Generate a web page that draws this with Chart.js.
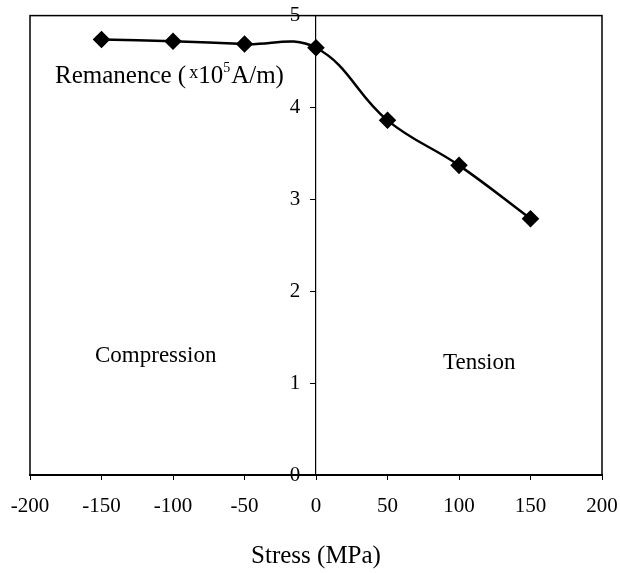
<!DOCTYPE html>
<html>
<head>
<meta charset="utf-8">
<script src="https://cdn.jsdelivr.net/npm/chart.js@4"></script>
<style>
  html, body { margin: 0; padding: 0; background: #fff; }
  #wrap { position: relative; width: 620px; height: 573px; }
</style>
</head>
<body>
<div id="wrap"><canvas id="remanence-chart" width="620" height="573"></canvas></div>
<script>
const stress = [-150, -100, -50, 0, 50, 100, 150];
const remanence = [4.74, 4.72, 4.69, 4.65, 3.86, 3.37, 2.79];
const xTicks = [-200, -150, -100, -50, 0, 50, 100, 150, 200];
const yTicks = [0, 1, 2, 3, 4, 5];

const serif = "'Liberation Serif', 'DejaVu Serif', serif";

// frame round the plot area and the free text labels
const framePlugin = {
    id: 'frame',
    afterDraw(chart) {
        const { ctx, chartArea } = chart;
        ctx.save();
        ctx.strokeStyle = '#000';
        ctx.lineWidth = 1.5;
        ctx.strokeRect(chartArea.left, chartArea.top, chartArea.right - chartArea.left, chartArea.bottom - chartArea.top);

        ctx.fillStyle = '#000';
        ctx.textBaseline = 'alphabetic';
        ctx.textAlign = 'left';
        let x = 55;
        const y = 83;
        const part = (txt, size, dy, gap) => {
            ctx.font = size + 'px ' + serif;
            ctx.fillText(txt, x, y + dy);
            x += ctx.measureText(txt).width + (gap || 0);
        };
        part('Remanence (', 25, 0, 3);
        part('x', 18, -5);
        part('10', 25, 0);
        part('5', 14, -11, 1);
        part('A/m)', 25, 0);

        ctx.font = '23px ' + serif;
        ctx.fillText('Compression', 95, 362);
        ctx.fillText('Tension', 443, 369);
        ctx.restore();
    }
};

const chartConfig = {
    type: 'line',
    data: {
        datasets: [
            {
                label: 'Remanence',
                data: stress.map((s, i) => ({ x: s, y: remanence[i] })),
                borderColor: '#000',
                backgroundColor: '#000',
                borderWidth: 2.5,
                tension: 0.4,
                pointStyle: 'rectRot',
                pointRadius: 7,
                pointHoverRadius: 7,
            },
        ],
    },
    options: {
        responsive: false,
        animation: false,
        layout: {
            padding: { left: 30, right: 18, top: 10, bottom: 0 },
        },
        plugins: {
            legend: { display: false },
            tooltip: { enabled: false },
        },
        scales: {
            x: {
                type: 'linear',
                position: 'bottom',
                min: -200,
                max: 200,
                afterBuildTicks: (scale) => { scale.ticks = xTicks.map(v => ({ value: v })); },
                afterFit: (scale) => {
                    scale.height = 98;
                    scale.paddingLeft = 0;
                    scale.paddingRight = 0;
                },
                grid: {
                    drawOnChartArea: false,
                    drawTicks: true,
                    tickLength: 5,
                    color: '#000',
                },
                border: { display: true, color: '#000', width: 2 },
                ticks: {
                    color: '#000',
                    padding: 14,
                    font: { family: serif, size: 21 },
                    maxRotation: 0,
                },
                title: {
                    display: true,
                    text: 'Stress (MPa)',
                    color: '#000',
                    font: { family: serif, size: 25 },
                    padding: { top: 0, bottom: 2 },
                },
            },
            y: {
                type: 'linear',
                position: { x: 0 },
                min: 0,
                max: 5,
                afterBuildTicks: (scale) => { scale.ticks = yTicks.map(v => ({ value: v })); },
                afterFit: (scale) => { scale.width = 0; },
                grid: {
                    drawOnChartArea: false,
                    drawTicks: true,
                    tickLength: 5,
                    color: '#000',
                },
                border: { display: true, color: '#000', width: 1.2 },
                ticks: {
                    color: '#000',
                    font: { family: serif, size: 21 },
                    // axis sits inside the plot, so push labels off the line
                    callback: (value) => value + '   ',
                },
            },
        },
    },
    plugins: [framePlugin],
};

const ctx = document.getElementById('remanence-chart').getContext('2d');
new Chart(ctx, chartConfig);
</script>
</body>
</html>
